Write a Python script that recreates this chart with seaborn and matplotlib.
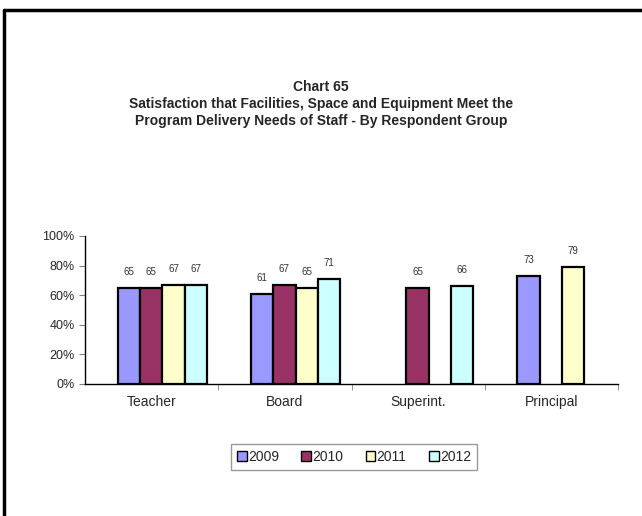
import matplotlib
matplotlib.use('Agg')
import matplotlib.pyplot as plt
import numpy as np
import pandas as pd
import seaborn as sns
from matplotlib.lines import Line2D
from matplotlib.patches import Patch
from matplotlib.ticker import PercentFormatter

grupos = ['Teacher', 'Board', 'Superint.', 'Principal']
anos = ['2009', '2010', '2011', '2012']
v2009 = [65, 61, np.nan, 73]
v2010 = [65, 67, 65, np.nan]
v2011 = [67, 65, np.nan, 79]
v2012 = [67, 71, 66, np.nan]
cores = ['#9999FF', '#993366', '#FFFFCC', '#CCFFFF']

df = pd.DataFrame({'grupo': grupos * 4,
                   'ano': [a for a in anos for _ in grupos],
                   'valor': v2009 + v2010 + v2011 + v2012})

sns.set_style('white')
plt.rcParams['font.family'] = ['Liberation Sans', 'DejaVu Sans']

fig = plt.figure(figsize=(6.42, 5.16), dpi=100)
ax = fig.add_axes([85 / 642, 1 - 384 / 516, (618 - 85) / 642, (384 - 236) / 516])

sns.barplot(data=df, x='grupo', y='valor', hue='ano', order=grupos,
            hue_order=anos, palette=cores, saturation=1, width=0.67,
            edgecolor='black', linewidth=1.6, ax=ax, legend=False, errorbar=None)

# no original as barras ficam um pouco deslocadas para a direita da categoria
for p in ax.patches:
    p.set_x(p.get_x() + 0.08)

for p in ax.patches:
    h = p.get_height()
    if h > 0 and not np.isnan(h):
        ax.annotate(f'{int(h)}', (p.get_x() + p.get_width() / 2, h),
                    xytext=(0, 8), textcoords='offset points',
                    ha='center', va='bottom', fontsize=7, color='#333333')

ax.set_xlim(-0.5, 3.5)
ax.set_ylim(0, 100)
ax.set_yticks([0, 20, 40, 60, 80, 100])
ax.yaxis.set_major_formatter(PercentFormatter(100, decimals=0))
ax.set_xlabel('')
ax.set_ylabel('')
ax.tick_params(axis='y', labelsize=9, length=4, color='gray', direction='out', left=True)
ax.tick_params(axis='x', labelsize=10, length=0, pad=8)
ax.set_xticks([0.5, 1.5, 2.5, 3.5], minor=True)
ax.tick_params(axis='x', which='minor', length=4, color='gray', direction='out', bottom=True)
for s in ['top', 'right']:
    ax.spines[s].set_visible(False)
for s in ['left', 'bottom']:
    ax.spines[s].set_color('black')
    ax.spines[s].set_linewidth(1)

fig.text(0.5, 1 - 80 / 516,
         'Chart 65\nSatisfaction that Facilities, Space and Equipment Meet the\n'
         'Program Delivery Needs of Staff - By Respondent Group',
         ha='center', va='top', fontsize=10, fontweight='bold', linespacing=1.25)

handles = [Patch(facecolor=c, edgecolor='black', linewidth=1) for c in cores]
leg = fig.legend(handles, anos, loc='center', bbox_to_anchor=(354 / 642, 1 - 457 / 516),
                 ncol=4, fontsize=10, frameon=True, fancybox=False,
                 handlelength=0.7, handleheight=0.7, handletextpad=0.1,
                 columnspacing=1.6, borderpad=0.4, borderaxespad=0)
leg.get_frame().set_edgecolor('gray')
leg.get_frame().set_linewidth(1)

# moldura do original (só topo e esquerda aparecem no recorte)
fig.add_artist(Line2D([4 / 642, 1], [1 - 10 / 516, 1 - 10 / 516], color='black', lw=2.5))
fig.add_artist(Line2D([4 / 642, 4 / 642], [0, 1 - 10 / 516], color='black', lw=2.5))

fig.savefig('out.png', dpi=100, facecolor='white')
